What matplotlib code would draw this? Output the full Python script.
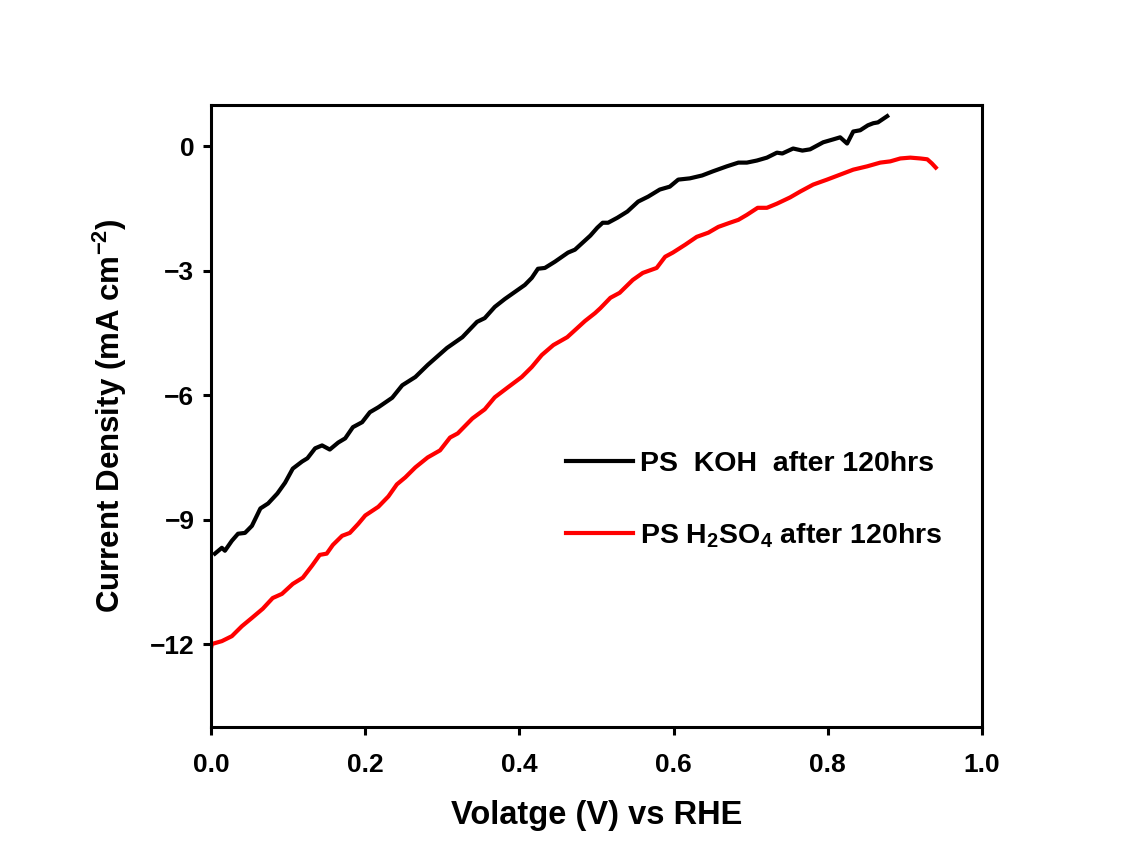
import numpy as np
import matplotlib
matplotlib.use("Agg")
import matplotlib.pyplot as plt

plt.rcParams.update({"font.family": "Liberation Sans", "font.weight": "bold",
                     "mathtext.fontset": "custom", "mathtext.rm": "Liberation Sans:bold",
                     "mathtext.it": "Liberation Sans:bold", "mathtext.bf": "Liberation Sans:bold"})

# PS in KOH after 120 hrs
koh_v = [0.005, 0.014, 0.018, 0.027, 0.035, 0.044, 0.053, 0.064, 0.074, 0.086, 0.096,
         0.106, 0.118, 0.125, 0.135, 0.144, 0.154, 0.165, 0.174, 0.184, 0.196, 0.206,
         0.217, 0.235, 0.248, 0.265, 0.281, 0.306, 0.326, 0.345, 0.355, 0.368, 0.381,
         0.394, 0.407, 0.416, 0.424, 0.433, 0.446, 0.463, 0.472, 0.492, 0.501, 0.508,
         0.515, 0.527, 0.540, 0.554, 0.567, 0.582, 0.595, 0.606, 0.621, 0.637, 0.651,
         0.669, 0.684, 0.695, 0.708, 0.721, 0.734, 0.741, 0.755, 0.767, 0.777, 0.794,
         0.807, 0.816, 0.825, 0.833, 0.842, 0.852, 0.859, 0.865, 0.877]
koh_j = [-9.82, -9.68, -9.75, -9.51, -9.34, -9.32, -9.15, -8.73, -8.61, -8.37, -8.11,
         -7.77, -7.60, -7.52, -7.28, -7.21, -7.31, -7.14, -7.04, -6.77, -6.65, -6.41,
         -6.29, -6.06, -5.76, -5.56, -5.27, -4.86, -4.60, -4.23, -4.14, -3.87, -3.68,
         -3.51, -3.34, -3.17, -2.95, -2.93, -2.78, -2.56, -2.49, -2.15, -1.96, -1.84,
         -1.84, -1.72, -1.57, -1.33, -1.21, -1.04, -0.97, -0.80, -0.77, -0.70, -0.60,
         -0.48, -0.39, -0.39, -0.34, -0.27, -0.15, -0.17, -0.05, -0.10, -0.07, 0.10,
         0.17, 0.22, 0.07, 0.36, 0.39, 0.51, 0.56, 0.58, 0.73]

# PS in H2SO4 after 120 hrs
h2so4_v = [0.000, 0.001, 0.014, 0.027, 0.040, 0.053, 0.067, 0.080, 0.092, 0.106, 0.119,
           0.131, 0.141, 0.150, 0.158, 0.170, 0.180, 0.191, 0.200, 0.217, 0.230, 0.241,
           0.252, 0.265, 0.281, 0.297, 0.310, 0.320, 0.339, 0.355, 0.368, 0.385, 0.403,
           0.416, 0.429, 0.444, 0.462, 0.475, 0.485, 0.498, 0.505, 0.518, 0.530, 0.547,
           0.560, 0.578, 0.589, 0.599, 0.615, 0.630, 0.645, 0.658, 0.673, 0.684, 0.695,
           0.709, 0.721, 0.734, 0.751, 0.764, 0.781, 0.799, 0.816, 0.833, 0.851, 0.868,
           0.881, 0.894, 0.907, 0.920, 0.929, 0.935, 0.940]
h2so4_j = [-12.10, -12.00, -11.93, -11.81, -11.57, -11.37, -11.15, -10.89, -10.79, -10.55,
           -10.40, -10.11, -9.85, -9.82, -9.61, -9.39, -9.32, -9.10, -8.90, -8.69, -8.44,
           -8.15, -7.98, -7.74, -7.50, -7.33, -7.02, -6.92, -6.56, -6.34, -6.05, -5.81,
           -5.56, -5.32, -5.03, -4.79, -4.60, -4.38, -4.21, -4.02, -3.90, -3.65, -3.53,
           -3.22, -3.05, -2.93, -2.66, -2.56, -2.37, -2.18, -2.08, -1.94, -1.84, -1.77,
           -1.65, -1.48, -1.48, -1.38, -1.23, -1.09, -0.92, -0.80, -0.68, -0.56, -0.48,
           -0.39, -0.36, -0.29, -0.27, -0.29, -0.31, -0.41, -0.51]

fig = plt.figure(figsize=(11.25, 8.59), dpi=100)
ax = fig.add_axes([0.1876, 0.1537, 0.6853, 0.7241])

ax.plot(koh_v, koh_j, color="black", lw=3.0, label="PS  KOH  after 120hrs")
ax.plot(h2so4_v, h2so4_j, color="red", lw=3.0, label="PS H$_2$SO$_4$ after 120hrs")

ax.set_xlim(0, 1.0)
ax.set_ylim(-14, 1)
ax.set_xticks(np.arange(0, 1.01, 0.2))
ax.set_xticklabels([f"{t:.1f}" for t in np.arange(0, 1.01, 0.2)])
ax.set_yticks([0, -3, -6, -9, -12])
for s in ax.spines.values():
    s.set_linewidth(2.2)
ax.tick_params(direction="out", length=6, width=2.2, labelsize=19)
ax.tick_params(axis="x", pad=13)
ax.tick_params(axis="y", pad=6)
ax.set_xlabel("Volatge (V) vs RHE", fontsize=23.5, fontweight="bold", labelpad=16)
ax.set_ylabel("Current Density (mA cm$^{-2}$)", fontsize=22.5, fontweight="bold", labelpad=15)

ax.legend(loc="upper left", bbox_to_anchor=(0.427, 0.485), frameon=False, fontsize=20.5,
          handlelength=2.35, handletextpad=0.25, labelspacing=1.55)

fig.savefig("out.png", dpi=100)
